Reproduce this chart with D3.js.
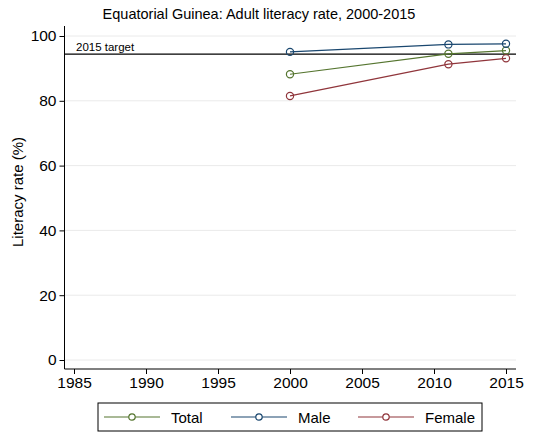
<!DOCTYPE html>
<html><head><meta charset="utf-8">
<script src="https://cdn.jsdelivr.net/npm/d3@7"></script>
<style>body{margin:0;background:#fff}svg{display:block;font-family:"Liberation Sans",Arial,sans-serif}</style>
</head><body><svg id="c" width="547" height="433"></svg>
<script>
const years = [2000, 2011, 2015];
const total = [88.2, 94.5, 95.5];
const male = [95.1, 97.4, 97.6];
const female = [81.5, 91.3, 93.1];
const seriesNames = ["Total", "Male", "Female"];
const seriesColors = ["#55752f", "#1a476f", "#90353b"];
const xTicks = [1985, 1990, 1995, 2000, 2005, 2010, 2015];
const yTicks = [0, 20, 40, 60, 80, 100];
const target = 94.4;

const svg = d3.select("#c");
svg.append("rect").attr("width",547).attr("height",433).attr("fill","#fff");
const x = d3.scaleLinear().domain([1985, 2015]).range([74, 506]);
const y = d3.scaleLinear().domain([0, 100]).range([360, 36]);
const left = 64.5, right = 516, bottom = 369;

// grid
svg.append("g").selectAll("line").data(yTicks).join("line")
  .attr("x1", left).attr("x2", right).attr("y1", d=>y(d)).attr("y2", d=>y(d))
  .attr("stroke", "#eaeaea").attr("stroke-width", 1);

// axes
const yAxis = svg.append("g").attr("transform", `translate(${left},0)`)
  .call(d3.axisLeft(y).tickValues(yTicks).tickSize(5).tickPadding(3));
yAxis.select(".domain").attr("d", `M0,${26}V${bottom}`);
const xAxis = svg.append("g").attr("transform", `translate(0,${bottom})`)
  .call(d3.axisBottom(x).tickValues(xTicks).tickFormat(d3.format("d")).tickSize(5).tickPadding(3));
xAxis.select(".domain").attr("d", `M${left},0H${right}`);
[yAxis, xAxis].forEach(g => {
  g.selectAll("text").attr("font-size", 15.5).attr("fill", "#000").attr("font-family", "Liberation Sans, Arial, sans-serif");
  g.selectAll("line,path").attr("stroke", "#000");
});

// target line
svg.append("line").attr("x1", left).attr("x2", right).attr("y1", y(target)).attr("y2", y(target))
  .attr("stroke", "#000").attr("stroke-width", 1.2);
svg.append("text").attr("x", 76).attr("y", y(target) - 3).attr("font-size", 11.5).text("2015 target");

// series
const data = [total, male, female];
const line = d3.line().x((d,i)=>x(years[i])).y(d=>y(d));
data.forEach((s, k) => {
  svg.append("path").datum(s).attr("d", line).attr("fill", "none")
    .attr("stroke", seriesColors[k]).attr("stroke-width", 1.2);
  svg.append("g").selectAll("circle").data(s).join("circle")
    .attr("cx", (d,i)=>x(years[i])).attr("cy", d=>y(d)).attr("r", 3.6)
    .attr("fill", "none").attr("stroke", seriesColors[k]).attr("stroke-width", 1.2);
});

// title
svg.append("text").attr("x", 259).attr("y", 19).attr("text-anchor", "middle")
  .attr("font-size", 14.5).text("Equatorial Guinea: Adult literacy rate, 2000-2015");
// y label
svg.append("text").attr("transform", "translate(23,192) rotate(-90)").attr("text-anchor", "middle")
  .attr("font-size", 15).text("Literacy rate (%)");

// legend
const lg = svg.append("g");
lg.append("rect").attr("x", 98).attr("y", 403).attr("width", 384).attr("height", 28)
  .attr("fill", "#fff").attr("stroke", "#000").attr("stroke-width", 1);
const lx = [104, 231, 358];
seriesNames.forEach((n, k) => {
  const g = lg.append("g").attr("transform", `translate(${lx[k]},417)`);
  g.append("line").attr("x1", 0).attr("x2", 56).attr("stroke", seriesColors[k]).attr("stroke-width", 1.2);
  g.append("circle").attr("cx", 28).attr("r", 3.2).attr("fill", "#fff").attr("stroke", seriesColors[k]).attr("stroke-width", 1.2);
  g.append("text").attr("x", 67).attr("y", 5.5).attr("font-size", 15).text(n);
});
</script></body></html>
